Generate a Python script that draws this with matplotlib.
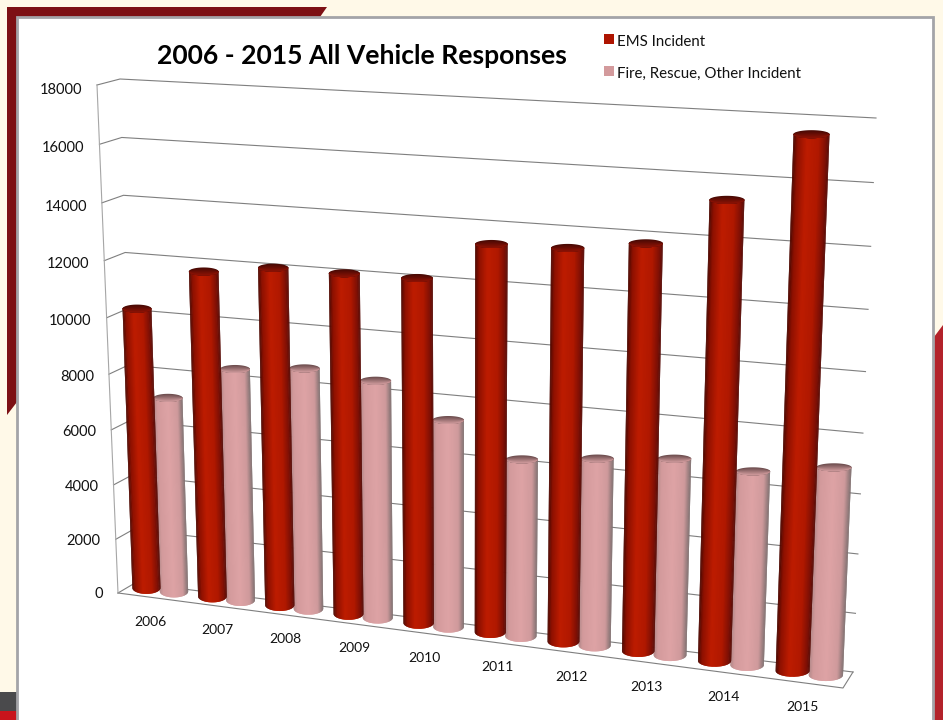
import numpy as np
import matplotlib
matplotlib.use('Agg')
import matplotlib.pyplot as plt
from matplotlib.collections import PolyCollection
from matplotlib.colors import LinearSegmentedColormap
from matplotlib.patches import Polygon, Rectangle

years = ['2006', '2007', '2008', '2009', '2010', '2011', '2012', '2013', '2014', '2015']
ems = [10190, 11690, 12010, 12010, 12040, 13360, 13410, 13740, 15300, 17500]
fire = [7100, 8360, 8610, 8410, 7290, 6190, 6480, 6740, 6580, 6980]
ticks = [0, 2000, 4000, 6000, 8000, 10000, 12000, 14000, 16000, 18000]
vmax = 18000

plt.rcParams['font.family'] = ['Lato', 'DejaVu Sans']

# corners of the 3d box in picture pixels (bottom-left, bottom-right, top-right, top-left)
back_wall = [(135, 583), (853, 672), (876, 118), (120, 79)]
front_wall = [(118, 593), (843, 688), (866, 124), (97, 85)]
mid_wall = [(127.5, 585.5), (849, 678), (872, 121), (109.5, 82)]


def homography(dst):
    src = [(0, 0), (1, 0), (1, 1), (0, 1)]
    A, b = [], []
    for (u, v), (x, y) in zip(src, dst):
        A.append([u, v, 1, 0, 0, 0, -u * x, -v * x])
        A.append([0, 0, 0, u, v, 1, -u * y, -v * y])
        b += [x, y]
    return np.append(np.linalg.solve(np.array(A, float), np.array(b, float)), 1).reshape(3, 3)


def project(H, u, v):
    p = H @ np.array([u, v, 1.0])
    return p[0] / p[2], p[1] / p[2]


H_back = homography(back_wall)
H_front = homography(front_wall)
H_mid = homography(mid_wall)

fig = plt.figure(figsize=(9.43, 7.2), dpi=100, facecolor='#FFF9E8')
ax = fig.add_axes([0, 0, 1, 1])
ax.set_xlim(0, 943)
ax.set_ylim(720, 0)
ax.axis('off')

# page frame behind the chart
ax.add_patch(Polygon([(7, 7), (327, 7), (320, 17), (17, 17), (17, 402), (7, 415)], fc='#7D1014', ec='none', zorder=1))
ax.add_patch(Polygon([(934, 337), (943, 325), (943, 720), (934, 720)], fc='#B3222A', ec='none', zorder=1))
ax.add_patch(Rectangle((0, 692), 17, 19, fc='#4A4A4C', ec='none', zorder=1))
ax.add_patch(Rectangle((0, 711), 17, 9, fc='#C8141C', ec='none', zorder=1))
ax.add_patch(Rectangle((17, 17), 916, 720, fc='white', ec='#A4A4A8', lw=2.0, zorder=2))

# gridlines: side wall then back wall
grid_kw = dict(color='#7f7f7f', lw=0.8, zorder=3)
for t in ticks:
    v = t / vmax
    f = project(H_front, 0, v)
    bl = project(H_back, 0, v)
    br = project(H_back, 1, v)
    ax.plot([f[0], bl[0], br[0]], [f[1], bl[1], br[1]], **grid_kw)
    ax.text(f[0] - 15, f[1] + 1.5 + 3 * v, str(t), ha='right', va='center', fontsize=10.5, color='#111111', zorder=6)

# floor and left edge
fl, fr = project(H_front, 0, 0), project(H_front, 1, 0)
br0 = project(H_back, 1, 0)
ax.plot([fl[0], fr[0], br0[0]], [fl[1], fr[1], br0[1]], **grid_kw)
tl = project(H_front, 0, 1)
ax.plot([tl[0], fl[0]], [tl[1], fl[1]], color='#a6a6a6', lw=0.8, zorder=3)

red_side = LinearSegmentedColormap.from_list('red_side', [
    (0, '#4a0700'), (0.12, '#8e1000'), (0.38, '#bd1c00'), (0.7, '#b01800'), (0.9, '#7f1005'), (1, '#560a05')])
pink_side = LinearSegmentedColormap.from_list('pink_side', [
    (0, '#b08686'), (0.12, '#d39a9c'), (0.5, '#dea3a5'), (0.82, '#cf9a9c'), (1, '#7f6f6f')])
red_cap = LinearSegmentedColormap.from_list('red_cap', ['#4a0a04', '#8c1204'])
pink_cap = LinearSegmentedColormap.from_list('pink_cap', ['#6f4f50', '#cf9a9c'])


def cylinder(cat, offset, value, side_cmap, cap_cmap, z):
    half = 0.215
    u = (cat + 0.5 + offset) / 10
    v = value / vmax
    bl_, br_ = project(H_mid, u - half / 10, 0), project(H_mid, u + half / 10, 0)
    tl_, tr_ = project(H_mid, u - half / 10, v), project(H_mid, u + half / 10, v)
    bc = ((bl_[0] + br_[0]) / 2, (bl_[1] + br_[1]) / 2)
    tc = ((tl_[0] + tr_[0]) / 2, (tl_[1] + tr_[1]) / 2)
    rx_b = (br_[0] - bl_[0]) / 2
    rx_t = (tr_[0] - tl_[0]) / 2
    ry_b = 6.0
    ry_t = 4.0
    th = np.linspace(np.pi, 0, 41)
    bx, by = bc[0] + rx_b * np.cos(th), bc[1] + ry_b * np.sin(th)
    tx, ty = tc[0] + rx_t * np.cos(th), tc[1] + ry_t * np.sin(th)
    # each strip runs on under the next one, so no seams show
    polys, cols = [], []
    for k in range(len(th) - 1):
        j = min(k + 2, len(th) - 1)
        polys.append(np.c_[np.r_[bx[k:j + 1], tx[k:j + 1][::-1]], np.r_[by[k:j + 1], ty[k:j + 1][::-1]]])
        cols.append(side_cmap((np.cos((th[k] + th[k + 1]) / 2) + 1) / 2))
    ax.add_collection(PolyCollection(polys, facecolors=cols, edgecolors='none', zorder=z))
    # cap shaded from the back rim to the front rim
    polys, cols = [], []
    for s in np.linspace(-1, 0.8, 8):
        polys.append(np.c_[np.r_[tx, tx[::-1]], np.r_[tc[1] + s * ry_t * np.sin(th), ty[::-1]]])
        cols.append(cap_cmap((s + 1) / 1.8))
    ax.add_collection(PolyCollection(polys, facecolors=cols, edgecolors='none', zorder=z + 0.1))


for i in range(len(years)):
    cylinder(i, 0.21, fire[i], pink_side, pink_cap, 4)
    cylinder(i, -0.21, ems[i], red_side, red_cap, 5)
    px, py = project(H_front, (i + 0.5) / 10, 0)
    ax.text(px, py + 24.5, years[i], ha='center', va='center', fontsize=10, color='#111111', zorder=6)

ax.text(362, 55.5, '2006 - 2015 All Vehicle Responses', ha='center', va='center', fontsize=19.1, fontweight='bold', color='black', zorder=6)

# legend
ax.add_patch(Rectangle((604, 34), 10, 10, fc='#AE1400', ec='none', zorder=6))
ax.add_patch(Rectangle((604, 66), 10, 10, fc='#D39A9C', ec='none', zorder=6))
ax.text(617, 42.5, 'EMS Incident', ha='left', va='center', fontsize=10.8, color='#111111', zorder=6)
ax.text(617, 73.5, 'Fire, Rescue, Other Incident', ha='left', va='center', fontsize=10.8, color='#111111', zorder=6)

plt.savefig('out.png', dpi=100)
plt.close()
